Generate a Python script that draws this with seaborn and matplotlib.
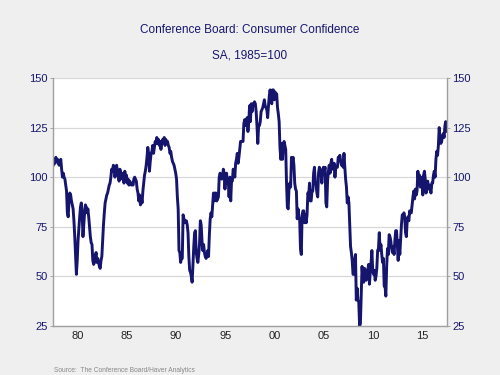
import numpy as np
import pandas as pd
import seaborn as sns
import matplotlib
matplotlib.use("Agg")
import matplotlib.pyplot as plt

# monthly index values (SA, 1985=100)
conf_1978_79 = [
    106, 108, 107, 110, 108, 109, 107, 106, 108, 109, 104, 100,
    102, 100, 99, 96, 93, 82, 80, 88, 92, 91, 88, 86,
]
conf_1980s = [
    84, 78, 70, 60, 51, 58, 68, 74, 80, 85, 87, 82,
    70, 76, 82, 86, 85, 82, 84, 80, 75, 70, 67, 66,
    58, 56, 57, 60, 62, 57, 59, 57, 55, 54, 58, 60,
    68, 76, 82, 87, 89, 91, 92, 94, 96, 97, 100, 104,
    103, 106, 105, 100, 104, 106, 103, 101, 98, 104, 102, 100,
    99, 102, 97, 103, 98, 101, 97, 99, 96, 98, 97, 96,
    97, 96, 99, 100, 99, 98, 94, 92, 88, 91, 86, 90,
    87, 93, 97, 101, 103, 106, 110, 115, 112, 103, 108, 112,
    113, 116, 112, 115, 118, 117, 120, 117, 119, 116, 118, 114,
    117, 119, 118, 120, 116, 119, 117, 118, 116, 115, 112, 113,
]
conf_1990s = [
    110, 108, 107, 106, 104, 102, 99, 90, 84, 63, 62, 57,
    59, 59, 81, 79, 77, 78, 78, 76, 72, 60, 53, 52,
    50, 47, 56, 65, 72, 73, 62, 59, 57, 61, 66, 78,
    76, 68, 63, 66, 62, 60, 59, 60, 63, 60, 71, 79,
    82, 80, 86, 92, 88, 92, 92, 88, 89, 90, 100, 102,
    101, 99, 100, 104, 102, 94, 101, 102, 97, 99, 90, 100,
    88, 98, 98, 104, 103, 100, 107, 109, 112, 107, 110, 114,
    118, 118, 118, 118, 127, 129, 126, 127, 130, 123, 128, 136,
    128, 137, 133, 137, 136, 138, 137, 133, 126, 117, 126, 126,
    128, 133, 134, 135, 137, 139, 136, 135, 134, 130, 136, 141,
]
conf_2000s = [
    144, 140, 137, 144, 144, 139, 143, 141, 142, 135, 132, 128,
    115, 109, 117, 109, 116, 118, 116, 114, 97, 85, 84, 94,
    97, 95, 110, 108, 110, 106, 97, 94, 93, 79, 84, 80,
    79, 64, 61, 81, 83, 83, 77, 81, 77, 81, 92, 91,
    97, 88, 88, 93, 93, 102, 105, 98, 96, 92, 90, 102,
    105, 104, 103, 97, 103, 105, 103, 105, 87, 85, 98, 103,
    106, 102, 107, 109, 104, 105, 107, 100, 105, 105, 105, 110,
    110, 111, 108, 106, 108, 105, 112, 105, 99, 95, 87, 90,
    87, 76, 65, 62, 58, 51, 51, 58, 61, 38, 44, 38,
    37, 25, 26, 40, 55, 49, 47, 54, 53, 48, 50, 53,
]
conf_2010s = [
    56, 46, 52, 57, 63, 53, 51, 53, 48, 50, 54, 63,
    64, 72, 63, 66, 61, 57, 59, 45, 45, 40, 55, 64,
    61, 71, 70, 68, 64, 62, 65, 61, 68, 73, 73, 66,
    58, 68, 61, 69, 76, 81, 80, 82, 80, 72, 70, 78,
    80, 78, 83, 82, 82, 86, 90, 93, 89, 94, 91, 93,
    103, 98, 101, 95, 95, 100, 91, 101, 103, 99, 92, 96,
    98, 94, 96, 94, 92, 97, 97, 101, 103, 100, 109, 113,
    111, 116, 125, 119, 117, 118, 121, 122, 120, 126, 128, 123,
]
year_labels = ["80", "85", "90", "95", "00", "05", "10", "15"]
label_years = [1980, 1985, 1990, 1995, 2000, 2005, 2010, 2015]
y_ticks = [25, 50, 75, 100, 125, 150]

values = conf_1978_79 + conf_1980s + conf_1990s + conf_2000s + conf_2010s
df = pd.DataFrame({
    "t": 1978 + (np.arange(len(values)) + 0.5) / 12,
    "conf": values,
})

sns.set_style("white")
plt.rcParams["font.family"] = ["Liberation Sans", "DejaVu Sans"]

navy = "#15156e"
bg = "#efefef"

fig = plt.figure(figsize=(5, 3.75), dpi=100, facecolor=bg)
ax = fig.add_axes([0.106, 0.131, 0.788, 0.661])
ax.set_facecolor("white")

sns.lineplot(data=df, x="t", y="conf", color=navy, linewidth=2.1, ax=ax)

ax.set_xlim(1978, 2018)
ax.set_ylim(25, 150)
ax.set_yticks(y_ticks)
ax.yaxis.grid(True, color="#d8d8d8", linewidth=0.9)
ax.set_axisbelow(True)

# labels sit mid-year, ticks at year boundaries
ax.set_xticks([y + 0.5 for y in label_years])
ax.set_xticklabels(year_labels)
ax.set_xticks(range(1978, 2019), minor=True)
ax.tick_params(axis="x", which="major", length=0, labelsize=8, colors="#222222", pad=4)
ax.tick_params(axis="x", which="minor", length=2.5, width=0.6, color="#999999", direction="out")
ax.tick_params(axis="y", length=2, width=0.6, color="#999999", labelsize=8,
               labelcolor=navy, left=True, right=True, labelleft=True, labelright=True, pad=2)

for side in ["left", "right", "bottom"]:
    ax.spines[side].set_color("#a0a0a0")
    ax.spines[side].set_linewidth(1.0)
ax.spines["top"].set_visible(False)
ax.set_xlabel("")
ax.set_ylabel("")

fig.text(0.5, 0.92, "Conference Board: Consumer Confidence", ha="center", va="center",
         fontsize=8.5, color=navy)
fig.text(0.5, 0.853, "SA, 1985=100", ha="center", va="center", fontsize=8.5, color=navy)
fig.text(0.107, 0.003, "Source:  The Conference Board/Haver Analytics", ha="left", va="bottom",
         fontsize=4.8, color="#888888")

fig.savefig("out.png", dpi=100, facecolor=bg)
